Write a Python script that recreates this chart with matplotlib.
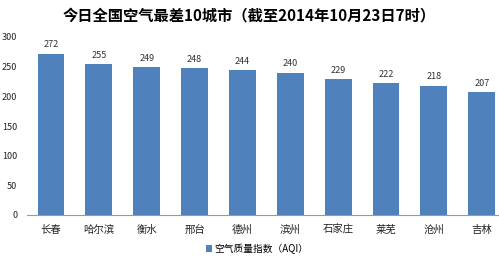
import matplotlib.pyplot as plt
import numpy as np

plt.rcParams['font.family'] = ['Noto Sans CJK SC', 'DejaVu Sans']

cities = ['长春', '哈尔滨', '衡水', '邢台', '德州', '滨州', '石家庄', '莱芜', '沧州', '吉林']
aqi = [272, 255, 249, 248, 244, 240, 229, 222, 218, 207]
yticks = [0, 50, 100, 150, 200, 250, 300]

bar_color = '#4F81BD'

fig = plt.figure(figsize=(4.99, 2.59), dpi=100)
ax = fig.add_axes([27 / 499, 44 / 259, 472 / 499, 178 / 259])

x = np.arange(len(cities))
bars = ax.bar(x, aqi, width=0.56, color=bar_color, label='空气质量指数（AQI）')
for xi, v in zip(x, aqi):
    ax.annotate(str(v), (xi, v), xytext=(0, 3), textcoords='offset points',
                ha='center', va='bottom', fontsize=6.5, color='#333333')

ax.set_xlim(-0.5, 9.36)
ax.set_ylim(0, 300)
ax.set_yticks(yticks)
ax.set_xticks(x)
ax.set_xticklabels(cities, fontsize=7.5)
ax.tick_params(axis='y', length=0, labelsize=6.5, pad=7, colors='#222222')
ax.tick_params(axis='x', length=0, pad=7, colors='#222222')
for s in ['top', 'right', 'left']:
    ax.spines[s].set_visible(False)
ax.spines['bottom'].set_color('#999999')

fig.text(0.5, 0.94, '今日全国空气最差10城市（截至2014年10月23日7时）',
         ha='center', va='center', fontsize=11, fontweight='bold')

fig.legend(loc='center', bbox_to_anchor=(0.515, 0.04), frameon=False,
           fontsize=7, handlelength=0.7, handleheight=0.7, handletextpad=0.2)

fig.savefig('out.png', dpi=100)
